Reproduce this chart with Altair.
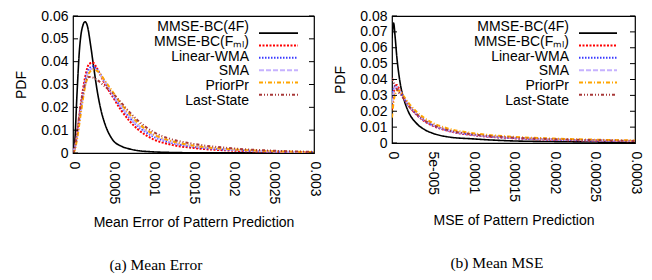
import altair as alt
import pandas as pd

SERIES = ["MMSE-BC(4F)", "MMSE-BC(Fₘₗ)", "Linear-WMA", "SMA", "PriorPr", "Last-State"]
COLORS = ["#000000", "#ff0000", "#3a3aff", "#c6b2ff", "#ffa500", "#a83838"]
DASHES = [[1, 0], [2, 1.5], [1.5, 1.5], [5, 2], [4, 2, 1, 2], [3, 2, 1, 2, 1, 2]]

# ---- (a) Mean Error ----
A_X_BLACK = [0, 0.00002, 0.00005, 0.00008, 0.0001, 0.00012, 0.00015, 0.00018, 0.00022, 0.00026,
             0.0003, 0.00035, 0.0004, 0.0005, 0.0006, 0.0007, 0.0008, 0.001, 0.0012, 0.0015,
             0.002, 0.0025, 0.003]
A_BLACK = [0, 0.004, 0.026, 0.045, 0.052, 0.0555, 0.0575, 0.0555, 0.047, 0.037,
           0.0275, 0.0185, 0.0125, 0.0055, 0.003, 0.0018, 0.0011, 0.0005, 0.00025, 0.0001,
           0.00005, 0.00002, 0.0]
A_X = [0, 0.00002, 0.00005, 0.0001, 0.00015, 0.0002, 0.00025, 0.0003, 0.0004, 0.0005,
       0.0006, 0.0008, 0.001, 0.0012, 0.0015, 0.002, 0.0025, 0.003]
A_RED = [0, 0.002, 0.008, 0.022, 0.033, 0.039, 0.0395, 0.037, 0.030, 0.0243,
         0.0187, 0.0106, 0.006, 0.0038, 0.0022, 0.001, 0.0005, 0.0002]
A_BLUE = [0, 0.002, 0.007, 0.020, 0.031, 0.037, 0.038, 0.0365, 0.031, 0.025,
          0.020, 0.012, 0.0072, 0.0047, 0.0027, 0.0013, 0.0006, 0.0003]
A_SMA = [0, 0.002, 0.007, 0.019, 0.030, 0.036, 0.037, 0.036, 0.031, 0.0255,
         0.0205, 0.0125, 0.0077, 0.005, 0.003, 0.0014, 0.0007, 0.0003]
A_PRIOR = [0, 0.001, 0.006, 0.018, 0.029, 0.035, 0.0365, 0.036, 0.0315, 0.0265,
           0.0215, 0.0135, 0.0082, 0.0055, 0.0032, 0.0016, 0.0008, 0.0004]
A_LAST = [0, 0.002, 0.009, 0.022, 0.030, 0.0333, 0.033, 0.032, 0.029, 0.026,
          0.022, 0.0145, 0.0092, 0.0063, 0.004, 0.002, 0.001, 0.0005]

# ---- (b) Mean MSE ----
B_X = [0, 0.000002, 0.000004, 0.000006, 0.000008, 0.00001, 0.000015, 0.00002, 0.00003, 0.00004,
       0.00005, 0.00007, 0.0001, 0.00015, 0.0002, 0.00025, 0.0003]
B_BLACK = [0.066, 0.0755, 0.066, 0.054, 0.045, 0.038, 0.027, 0.020, 0.0125, 0.0085,
           0.0062, 0.0038, 0.0026, 0.0013, 0.0009, 0.0006, 0.0005]
B_RED = [0.021, 0.031, 0.036, 0.0365, 0.035, 0.033, 0.028, 0.024, 0.018, 0.0138,
         0.011, 0.0075, 0.005, 0.003, 0.002, 0.0015, 0.0011]
B_BLUE = [0.028, 0.034, 0.036, 0.035, 0.0335, 0.032, 0.028, 0.024, 0.0182, 0.014,
          0.0112, 0.0077, 0.0051, 0.0031, 0.0021, 0.0016, 0.0012]
B_SMA = [0.025, 0.032, 0.035, 0.035, 0.034, 0.0325, 0.0285, 0.0245, 0.0186, 0.0145,
         0.0116, 0.008, 0.0054, 0.0033, 0.0023, 0.0017, 0.0013]
B_PRIOR = [0.016, 0.026, 0.031, 0.033, 0.033, 0.0325, 0.029, 0.0255, 0.0198, 0.0157,
           0.0127, 0.009, 0.0062, 0.0039, 0.0028, 0.0021, 0.0016]
B_LAST = [0.041, 0.038, 0.036, 0.034, 0.032, 0.031, 0.0275, 0.0238, 0.0183, 0.0143,
          0.0115, 0.008, 0.0054, 0.0034, 0.0024, 0.0018, 0.0013]

A_XTICKS = [0, 0.0005, 0.001, 0.0015, 0.002, 0.0025, 0.003]
A_XLABELS = ["0", "0.0005", "0.001", "0.0015", "0.002", "0.0025", "0.003"]
A_YTICKS = [0, 0.01, 0.02, 0.03, 0.04, 0.05, 0.06]
A_YLABELS = ["0", "0.01", "0.02", "0.03", "0.04", "0.05", "0.06"]
B_XTICKS = [0, 0.00005, 0.0001, 0.00015, 0.0002, 0.00025, 0.0003]
B_XLABELS = ["0", "5e-005", "0.0001", "0.00015", "0.0002", "0.00025", "0.0003"]
B_YTICKS = [0, 0.01, 0.02, 0.03, 0.04, 0.05, 0.06, 0.07, 0.08]
B_YLABELS = ["0", "0.01", "0.02", "0.03", "0.04", "0.05", "0.06", "0.07", "0.08"]

FONT = "Liberation Sans"


def label_expr(vals, labels):
    expr = "''"
    for v, l in reversed(list(zip(vals, labels))):
        expr = f"abs(datum.value - {v!r}) < 1e-12 ? '{l}' : ({expr})"
    return expr


def long_df(curves):
    rows = []
    for name, xs, ys in curves:
        for x, y in zip(xs, ys):
            rows.append({"series": name, "x": x, "y": y})
    return pd.DataFrame(rows)


def panel(curves, xdom, ydom, xticks, xlabels, yticks, ylabels, xtitle, caption,
          w, h, leg_text_x, leg_line_x1, leg_line_x2, cap_dx):
    df = long_df(curves)
    color = alt.Color("series:N", scale=alt.Scale(domain=SERIES, range=COLORS), legend=None)
    dash = alt.StrokeDash("series:N", scale=alt.Scale(domain=SERIES, range=DASHES), legend=None)
    width_cond = alt.condition(alt.datum.series == SERIES[0], alt.value(1.6), alt.value(2.0))

    xs = alt.Scale(domain=xdom, nice=False, zero=True)
    ys = alt.Scale(domain=ydom, nice=False, zero=True)

    lines = alt.Chart(df).mark_line(clip=True, interpolate="monotone").encode(
        x=alt.X("x:Q", scale=xs, title=xtitle,
                axis=alt.Axis(values=xticks, labelExpr=label_expr(xticks, xlabels),
                              labelAngle=90, labelAlign="left", labelBaseline="middle",
                              labelPadding=8, titlePadding=12, labelFlush=False,
                              labelOverlap=False)),
        y=alt.Y("y:Q", scale=ys, title="PDF",
                axis=alt.Axis(values=yticks, labelExpr=label_expr(yticks, ylabels),
                              labelPadding=5, titlePadding=12, labelFlush=False,
                              labelOverlap=False)),
        color=color,
        strokeDash=dash,
        strokeWidth=width_cond,
        detail="series:N",
    )

    tdf = pd.DataFrame({"t": yticks})
    tick_l = alt.Chart(tdf).mark_rule(color="black", strokeWidth=1).encode(
        y=alt.Y("t:Q", scale=ys, axis=None), x=alt.value(0), x2=alt.value(5))
    tick_r = alt.Chart(tdf).mark_rule(color="black", strokeWidth=1).encode(
        y=alt.Y("t:Q", scale=ys, axis=None), x=alt.value(w - 5), x2=alt.value(w))

    ldf = pd.DataFrame({"series": SERIES})
    ly = alt.Y("series:N", scale=alt.Scale(domain=SERIES, range=[11, 85], padding=0),
               axis=None)
    leg_text = alt.Chart(ldf).mark_text(align="right", baseline="middle", font=FONT,
                                        fontSize=14, color="black").encode(
        y=ly, x=alt.value(leg_text_x), text="series:N")
    leg_line = alt.Chart(ldf).mark_rule().encode(
        y=ly, x=alt.value(leg_line_x1), x2=alt.value(leg_line_x2),
        color=color, strokeDash=dash, strokeWidth=width_cond)

    return alt.layer(lines, tick_l, tick_r, leg_text, leg_line).resolve_scale(
        y="independent").properties(
        width=w, height=h,
        title=alt.TitleParams(text=caption, orient="bottom", font="Liberation Serif",
                              fontSize=15.5, fontWeight="normal", anchor="middle",
                              frame="bounds", offset=28, dx=cap_dx, color="black"))


left = panel(
    [(SERIES[0], A_X_BLACK, A_BLACK), (SERIES[1], A_X, A_RED), (SERIES[2], A_X, A_BLUE),
     (SERIES[3], A_X, A_SMA), (SERIES[4], A_X, A_PRIOR), (SERIES[5], A_X, A_LAST)],
    [0, 0.003], [0, 0.06], A_XTICKS, A_XLABELS, A_YTICKS, A_YLABELS,
    "Mean Error of Pattern Prediction", "(a) Mean Error",
    241, 137, 176, 186, 225, -12)

right = panel(
    [(SERIES[0], B_X, B_BLACK), (SERIES[1], B_X, B_RED), (SERIES[2], B_X, B_BLUE),
     (SERIES[3], B_X, B_SMA), (SERIES[4], B_X, B_PRIOR), (SERIES[5], B_X, B_LAST)],
    [0, 0.0003], [0, 0.08], B_XTICKS, B_XLABELS, B_YTICKS, B_YLABELS,
    "MSE of Pattern Prediction", "(b) Mean MSE",
    243, 127, 177, 187, 225, 9)

chart = alt.hconcat(left, right, spacing=11).properties(
    padding={"left": 6, "top": 0, "right": 0, "bottom": 0}
).configure_view(stroke="black", strokeWidth=1.2).configure_axis(
    domain=False, ticks=False, grid=False, labelFont=FONT, labelFontSize=14,
    titleFont=FONT, titleFontSize=14, titleFontWeight="normal",
    labelColor="black", titleColor="black")

chart.save("out.html", embed_options={"renderer": "svg", "actions": False})
